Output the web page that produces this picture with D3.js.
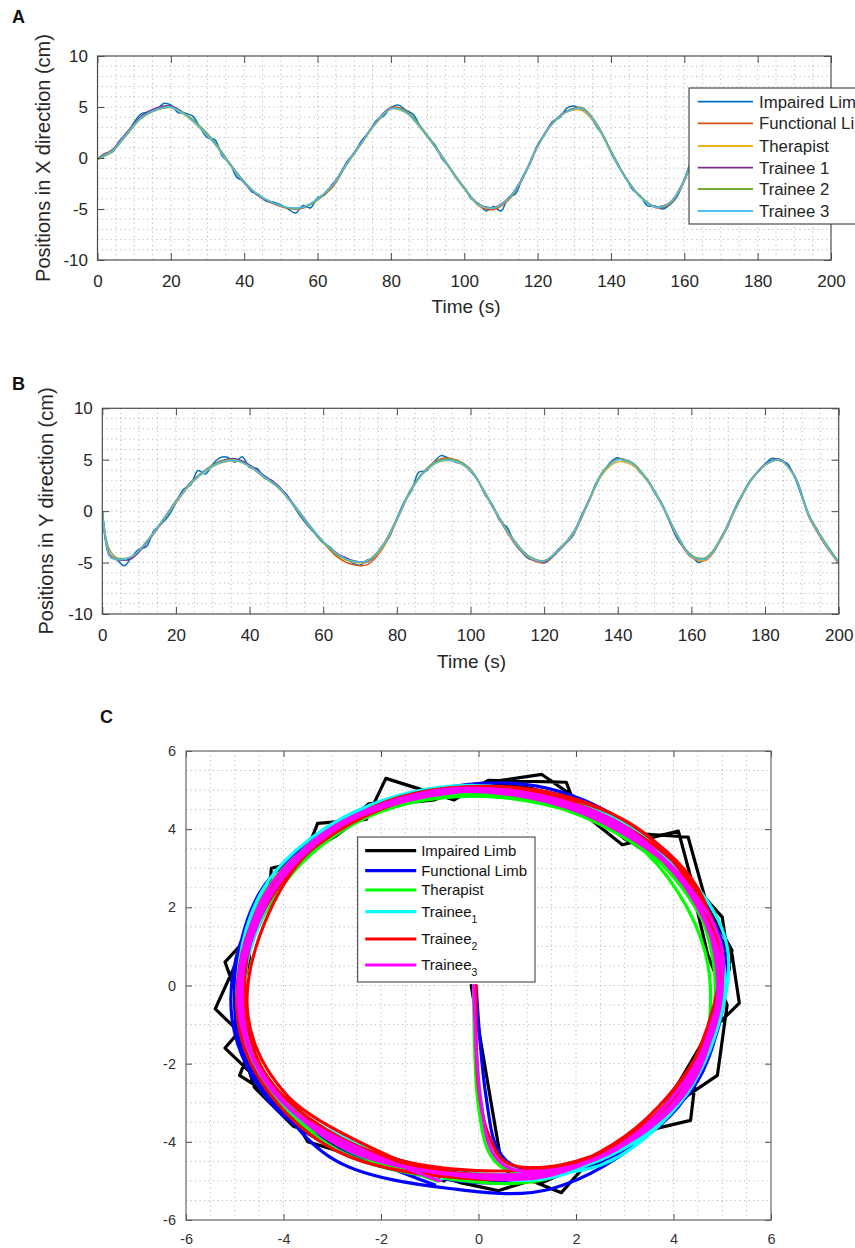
<!DOCTYPE html>
<html>
<head>
<meta charset="utf-8">
<script src="https://cdn.jsdelivr.net/npm/d3@7"></script>
<style>
  body { margin: 0; background: #fff; }
  svg { display: block; }
</style>
</head>
<body>
<svg id="fig" width="855" height="1248"></svg>
<script>
// ---------------- data ----------------
const seriesNames = ["Impaired Limb", "Functional Limb", "Therapist", "Trainee 1", "Trainee 2", "Trainee 3"];
const planeLegendBase = ["Impaired Limb", "Functional Limb", "Therapist", "Trainee", "Trainee", "Trainee"];
const planeLegendSub = ["", "", "", "1", "2", "3"];
const lineColors = ["#0072BD", "#D95319", "#EDB120", "#7E2F8E", "#77AC30", "#4DBEEE"];
const planeColors = ["#000000", "#0000FF", "#00FF00", "#00FFFF", "#FF0000", "#FF00FF"];

const timeTicks = [0, 20, 40, 60, 80, 100, 120, 140, 160, 180, 200];
const positionTicks = [-10, -5, 0, 5, 10];
const planeTicks = [-6, -4, -2, 0, 2, 4, 6];

// impaired limb, sampled every 2 s
const timeImpaired = [
  0, 2, 4, 6, 8, 10, 12, 14, 16, 18,
  20, 22, 24, 26, 28, 30, 32, 34, 36, 38,
  40, 42, 44, 46, 48, 50, 52, 54, 56, 58,
  60, 62, 64, 66, 68, 70, 72, 74, 76, 78,
  80, 82, 84, 86, 88, 90, 92, 94, 96, 98,
  100, 102, 104, 106, 108, 110, 112, 114, 116, 118,
  120, 122, 124, 126, 128, 130, 132, 134, 136, 138,
  140, 142, 144, 146, 148, 150, 152, 154, 156, 158,
  160, 162, 164, 166, 168, 170, 172, 174, 176, 178,
  180, 182, 184, 186, 188, 190, 192, 194, 196, 198,
  200];
const impairedX = [
  -0.15, 0.45, 0.6, 1.7, 2.3, 3.5, 4.35, 4.5, 4.7, 5.35,
  5.2, 4.45, 4.4, 4.1, 2.95, 2.0, 1.8, 0.2, -0.5, -1.9,
  -2.3, -3.3, -3.6, -4.25, -4.3, -4.6, -5.0, -5.4, -4.65, -4.9,
  -3.9, -3.6, -2.6, -1.75, -0.35, 0.4, 1.7, 2.5, 3.65, 4.1,
  4.95, 5.2, 4.7, 4.3, 3.1, 2.05, 1.3, -0.1, -0.9, -2.1,
  -2.9, -4.05, -4.5, -5.2, -4.75, -5.2, -3.9, -3.5, -1.8, -0.5,
  1.3, 2.3, 3.55, 3.95, 4.9, 5.1, 4.7, 4.35, 3.1, 2.1,
  0.5, -0.8, -1.9, -3.15, -3.7, -4.7, -4.7, -5.0, -4.6, -3.8,
  -2.1, -0.1, 2.1, 3.2, 4.35, 4.75, 5.15, 5.0, 4.1, 3.0,
  2.2, 0.45, -0.7, -2.25, -3.55, -4.8, -4.8, -4.7, -3.9, -2.7,
  -0.7];
const impairedY = [
  0, -4.4, -4.75, -5.3, -4.45, -3.7, -3.45, -1.9, -1.25, -0.45,
  0.8, 2.1, 2.55, 3.95, 3.6, 4.55, 5.2, 5.25, 4.75, 5.3,
  4.25, 4.15, 3.2, 3.0, 2.2, 1.65, 0.5, -0.6, -1.5, -2.3,
  -3.1, -3.55, -4.35, -4.5, -5.05, -5.25, -4.75, -4.55, -3.4, -2.5,
  -0.7, 0.9, 2.0, 3.8, 3.9, 4.75, 5.4, 5.15, 4.75, 4.6,
  3.85, 3.0, 1.55, 0.6, -0.95, -1.6, -3.15, -4.0, -4.65, -4.75,
  -5.05, -4.5, -3.65, -3.1, -2.3, -0.5, 0.8, 2.65, 3.7, 4.75,
  5.2, 4.85, 4.7, 3.75, 3.1, 1.75, 0.7, -1.0, -2.6, -3.6,
  -4.3, -5.0, -4.55, -4.0, -2.6, -1.4, 0.45, 1.75, 3.0, 3.75,
  4.6, 5.15, 4.9, 4.65, 3.3, 1.4, -0.6, -1.7, -3.1, -4.0,
  -5.0];

// the other five traces share a coarser time base
const timeSmooth = [
  0, 1, 2, 4, 8, 12, 16, 20, 24, 28,
  32, 36, 40, 44, 48, 52, 56, 60, 64, 68,
  72, 76, 80, 84, 88, 92, 96, 100, 104, 108,
  112, 116, 120, 124, 128, 132, 136, 140, 144, 148,
  152, 156, 160, 164, 168, 172, 176, 180, 184, 188,
  192, 196, 200];

const functionalX = [
  -0.05, 0.15, 0.4, 0.8, 2.5, 4.1, 4.8, 5.05, 4.3, 3.05,
  1.5, -0.5, -2.35, -3.75, -4.5, -4.95, -4.9, -4.1, -2.9, -0.55,
  1.5, 3.55, 4.95, 4.65, 3.1, 1.2, -0.95, -2.95, -4.7, -5.05,
  -4.15, -2.0, 1.1, 3.35, 4.6, 4.95, 3.4, 0.7, -1.9, -3.8,
  -4.85, -4.55, -2.3, 1.9, 4.25, 5.05, 4.1, 2.2, -0.7, -3.6,
  -4.95, -4.1, -0.9];
const functionalY = [
  0, -2.8, -4.2, -4.65, -4.5, -3.1, -1.2, 0.8, 2.65, 3.95,
  4.8, 5.05, 4.45, 3.4, 2.35, 0.55, -1.4, -3.05, -4.5, -5.2,
  -5.2, -3.7, -0.9, 2.15, 4.1, 5.1, 5.0, 4.05, 1.65, -0.9,
  -3.15, -4.6, -5.0, -3.85, -2.2, 0.8, 3.75, 5.05, 4.65, 3.05,
  0.55, -2.4, -4.5, -4.75, -2.8, 0.2, 2.85, 4.5, 5.05, 3.45,
  -0.6, -3.1, -5.1];

const therapistX = [
  -0.1, 0.0, 0.25, 0.65, 2.3, 3.95, 4.7, 4.95, 4.15, 2.9,
  1.35, -0.65, -2.45, -3.75, -4.45, -4.9, -4.85, -4.05, -2.75, -0.6,
  1.4, 3.4, 4.8, 4.45, 2.95, 1.05, -1.05, -3.05, -4.65, -4.9,
  -4.05, -1.9, 1.1, 3.3, 4.5, 4.65, 3.2, 0.55, -2.0, -3.8,
  -4.75, -4.4, -2.25, 1.9, 4.15, 4.95, 3.95, 2.05, -0.85, -3.7,
  -4.9, -4.05, -0.85];
const therapistY = [
  0, -3.1, -4.35, -4.75, -4.55, -3.05, -1.15, 0.85, 2.65, 3.85,
  4.65, 4.9, 4.35, 3.3, 2.25, 0.55, -1.35, -3.0, -4.3, -4.95,
  -4.95, -3.6, -0.85, 2.1, 3.95, 4.85, 4.8, 3.9, 1.65, -0.85,
  -3.05, -4.5, -4.9, -3.8, -2.15, 0.85, 3.65, 4.8, 4.45, 2.9,
  0.55, -2.3, -4.45, -4.7, -2.75, 0.25, 2.85, 4.45, 4.95, 3.35,
  -0.55, -3.05, -5.0];

const trainee1X = [
  -0.1, 0.05, 0.3, 0.75, 2.5, 4.1, 4.9, 5.1, 4.3, 3.0,
  1.45, -0.55, -2.45, -3.75, -4.45, -4.9, -4.85, -4.05, -2.65, -0.45,
  1.55, 3.55, 4.9, 4.55, 3.05, 1.15, -0.95, -2.95, -4.55, -4.85,
  -3.95, -1.85, 1.25, 3.45, 4.6, 4.9, 3.35, 0.65, -1.95, -3.8,
  -4.75, -4.4, -2.15, 2.05, 4.25, 5.05, 4.05, 2.15, -0.75, -3.6,
  -4.85, -3.95, -0.75];
const trainee1Y = [
  0, -2.9, -4.25, -4.7, -4.6, -3.05, -1.1, 1.0, 2.8, 4.0,
  4.85, 5.1, 4.5, 3.45, 2.4, 0.65, -1.25, -2.95, -4.15, -4.8,
  -4.9, -3.45, -0.75, 2.2, 4.05, 4.95, 4.9, 4.0, 1.75, -0.75,
  -2.95, -4.45, -4.9, -3.8, -2.05, 0.95, 3.85, 5.05, 4.65, 3.05,
  0.65, -2.25, -4.35, -4.6, -2.65, 0.35, 2.95, 4.55, 5.05, 3.45,
  -0.45, -2.95, -4.95];

const trainee2X = [
  -0.05, 0.0, 0.2, 0.6, 2.3, 3.9, 4.7, 4.95, 4.3, 3.1,
  1.55, -0.5, -2.3, -3.65, -4.4, -4.9, -4.85, -4.1, -2.8, -0.6,
  1.45, 3.45, 4.85, 4.6, 3.15, 1.2, -0.9, -2.9, -4.55, -4.9,
  -4.05, -1.95, 1.15, 3.35, 4.55, 4.9, 3.4, 0.7, -1.9, -3.75,
  -4.75, -4.4, -2.1, 2.0, 4.2, 4.95, 4.0, 2.15, -0.65, -3.5,
  -4.75, -3.9, -0.8];
const trainee2Y = [
  0, -2.6, -3.8, -4.55, -4.4, -2.95, -1.05, 0.95, 2.75, 4.0,
  4.8, 5.0, 4.35, 3.25, 2.2, 0.5, -1.4, -3.05, -4.3, -4.9,
  -4.8, -3.4, -0.7, 2.25, 4.1, 5.0, 4.95, 4.05, 1.8, -0.7,
  -2.9, -4.4, -4.8, -3.7, -2.0, 1.0, 3.9, 5.05, 4.7, 3.1,
  0.7, -2.2, -4.3, -4.5, -2.6, 0.4, 2.95, 4.5, 4.95, 3.4,
  -0.4, -2.85, -4.9];

const trainee3X = [
  -0.1, 0.05, 0.3, 0.7, 2.4, 4.0, 4.75, 5.0, 4.2, 2.95,
  1.4, -0.6, -2.4, -3.7, -4.4, -4.85, -4.8, -4.0, -2.7, -0.5,
  1.5, 3.5, 4.85, 4.5, 3.0, 1.1, -1.0, -3.0, -4.6, -4.9,
  -4.0, -1.9, 1.2, 3.4, 4.55, 4.85, 3.3, 0.6, -2.0, -3.85,
  -4.8, -4.45, -2.2, 2.0, 4.2, 5.0, 4.0, 2.1, -0.8, -3.65,
  -4.9, -4.0, -0.8];
const trainee3Y = [
  0, -3.0, -4.3, -4.7, -4.45, -3.0, -1.1, 0.9, 2.7, 3.9,
  4.7, 4.95, 4.4, 3.35, 2.3, 0.6, -1.3, -2.95, -4.2, -4.85,
  -4.85, -3.5, -0.8, 2.15, 4.0, 4.9, 4.85, 3.95, 1.7, -0.8,
  -3.0, -4.5, -4.85, -3.75, -2.1, 0.9, 3.8, 5.0, 4.6, 3.0,
  0.6, -2.3, -4.4, -4.6, -2.7, 0.3, 2.9, 4.5, 5.0, 3.4,
  -0.5, -3.0, -5.0];

// ---------------- assembly ----------------
const traces = [
  { t: timeImpaired, x: impairedX, y: impairedY },
  { t: timeSmooth, x: functionalX, y: functionalY },
  { t: timeSmooth, x: therapistX, y: therapistY },
  { t: timeSmooth, x: trainee1X, y: trainee1Y },
  { t: timeSmooth, x: trainee2X, y: trainee2Y },
  { t: timeSmooth, x: trainee3X, y: trainee3Y }
].map((d, i) => ({ ...d, name: seriesNames[i] }));

const FONT = "'Liberation Sans', Arial, Helvetica, sans-serif";
const INK = "#262626";
const svg = d3.select("#fig");

function styleAxis(sel, size, color) {
  sel.select(".domain").remove();
  sel.selectAll(".tick line").attr("stroke", "#4d4d4d").attr("stroke-width", 1);
  sel.selectAll(".tick text")
    .attr("font-family", FONT).attr("font-size", size).attr("fill", color);
}

function dottedGrid(g, xs, ys, x, y, box) {
  const grid = g.append("g")
    .attr("stroke", "#b9b9b9").attr("stroke-width", 1)
    .attr("stroke-dasharray", "1.2,3.3");
  grid.selectAll("line.v").data(xs).join("line")
    .attr("x1", d => x(d)).attr("x2", d => x(d))
    .attr("y1", box.top).attr("y2", box.bottom);
  grid.selectAll("line.h").data(ys).join("line")
    .attr("y1", d => y(d)).attr("y2", d => y(d))
    .attr("x1", box.left).attr("x2", box.right);
}

function timePanel(o) {
  const g = svg.append("g");
  const x = d3.scaleLinear().domain([0, 200]).range([o.left, o.right]);
  const y = d3.scaleLinear().domain([-10, 10]).range([o.bottom, o.top]);

  g.append("rect").attr("x", o.left).attr("y", o.top)
    .attr("width", o.right - o.left).attr("height", o.bottom - o.top).attr("fill", "#fff");
  dottedGrid(g, d3.range(5, 200, 5), d3.range(-9, 10, 1), x, y, o);

  const clipId = "clip-" + o.id;
  g.append("clipPath").attr("id", clipId).append("rect")
    .attr("x", o.left).attr("y", o.top)
    .attr("width", o.right - o.left).attr("height", o.bottom - o.top);

  const line = d3.line().x(d => x(d[0])).y(d => y(d[1])).curve(d3.curveCatmullRom);
  const lines = g.append("g").attr("clip-path", `url(#${clipId})`);
  traces.forEach((s, i) => {
    lines.append("path")
      .datum(s.t.map((t, k) => [t, s[o.key][k]]))
      .attr("d", line).attr("fill", "none")
      .attr("stroke", lineColors[i]).attr("stroke-width", 1.5)
      .attr("stroke-linejoin", "round");
  });

  const fmt = d => String(d);
  g.append("g").attr("transform", `translate(0,${o.bottom})`)
    .call(d3.axisBottom(x).tickValues(timeTicks).tickFormat(fmt)
      .tickSizeInner(-7).tickSizeOuter(0).tickPadding(14.5))
    .call(s => styleAxis(s, 17, INK));
  g.append("g").attr("transform", `translate(0,${o.top})`)
    .call(d3.axisTop(x).tickValues(timeTicks).tickFormat("")
      .tickSizeInner(-7).tickSizeOuter(0))
    .call(s => styleAxis(s, 17, INK));
  g.append("g").attr("transform", `translate(${o.left},0)`)
    .call(d3.axisLeft(y).tickValues(positionTicks).tickFormat(fmt)
      .tickSizeInner(-7).tickSizeOuter(0).tickPadding(9.5))
    .call(s => styleAxis(s, 17, INK));
  g.append("g").attr("transform", `translate(${o.right},0)`)
    .call(d3.axisRight(y).tickValues(positionTicks).tickFormat("")
      .tickSizeInner(-7).tickSizeOuter(0))
    .call(s => styleAxis(s, 17, INK));

  g.append("rect").attr("x", o.left).attr("y", o.top)
    .attr("width", o.right - o.left).attr("height", o.bottom - o.top)
    .attr("fill", "none").attr("stroke", "#4d4d4d").attr("stroke-width", 1.2);

  g.append("text").attr("x", o.xTitle[0]).attr("y", o.xTitle[1])
    .attr("text-anchor", "middle").attr("font-family", FONT)
    .attr("font-size", 19).attr("fill", INK).text("Time (s)");
  g.append("text")
    .attr("transform", `translate(${o.yTitle[0]},${o.yTitle[1]}) rotate(-90)`)
    .attr("text-anchor", "middle").attr("font-family", FONT)
    .attr("font-size", 20).attr("fill", INK).text(o.yLabel);

  svg.append("text").attr("x", o.tag[0]).attr("y", o.tag[1])
    .attr("font-family", FONT).attr("font-weight", "bold")
    .attr("font-size", 18).attr("fill", "#111").text(o.id);

  return { g, x, y };
}

// Panel A: X position over time, with its legend
timePanel({
  id: "A", key: "x", left: 97.5, right: 831, top: 56, bottom: 260,
  xTitle: [466, 313], yTitle: [49.5, 158], tag: [12, 23],
  yLabel: "Positions in X direction (cm)"
});
{
  const lg = svg.append("g");
  const top = 88, left = 689;
  const rowOffsets = [13.7, 35.3, 58, 79.7, 101, 123];
  lg.append("rect").attr("x", left).attr("y", top).attr("width", 230).attr("height", 136)
    .attr("fill", "#fff").attr("stroke", INK).attr("stroke-width", 1);
  seriesNames.forEach((n, i) => {
    const yy = top + rowOffsets[i];
    lg.append("line").attr("x1", left + 8.7).attr("x2", left + 64).attr("y1", yy).attr("y2", yy)
      .attr("stroke", lineColors[i]).attr("stroke-width", 1.8);
    lg.append("text").attr("x", left + 70).attr("y", yy).attr("dy", "0.35em")
      .attr("font-family", FONT).attr("font-size", 16.8).attr("fill", INK).text(n);
  });
}

// Panel B: Y position over time
timePanel({
  id: "B", key: "y", left: 102.3, right: 838.7, top: 408.3, bottom: 614,
  xTitle: [471.5, 668], yTitle: [52.5, 511], tag: [12, 390],
  yLabel: "Positions in Y direction (cm)"
});

// Panel C: trajectories in the X-Y plane
{
  const box = { left: 186, right: 771, top: 751, bottom: 1220 };
  const g = svg.append("g");
  const x = d3.scaleLinear().domain([-6, 6]).range([box.left, box.right]);
  const y = d3.scaleLinear().domain([-6, 6]).range([box.bottom, box.top]);
  const half = d3.range(-5.5, 6, 0.5);
  dottedGrid(g, half, half, x, y, box);

  g.append("clipPath").attr("id", "clip-C").append("rect")
    .attr("x", box.left).attr("y", box.top)
    .attr("width", box.right - box.left).attr("height", box.bottom - box.top);
  const lines = g.append("g").attr("clip-path", "url(#clip-C)");
  traces.forEach((s, i) => {
    const curve = i === 0 ? d3.curveLinear : d3.curveCatmullRom;
    const path = d3.line().x(d => x(d[0])).y(d => y(d[1])).curve(curve);
    lines.append("path")
      .datum(s.x.map((v, k) => [v, s.y[k]]))
      .attr("d", path).attr("fill", "none")
      .attr("stroke", planeColors[i]).attr("stroke-width", 3.2)
      .attr("stroke-linejoin", "round").attr("stroke-linecap", "round");
  });

  const fmt = d => String(d);
  g.append("g").attr("transform", `translate(0,${box.bottom})`)
    .call(d3.axisBottom(x).tickValues(planeTicks).tickFormat(fmt)
      .tickSizeInner(-6).tickSizeOuter(0).tickPadding(14))
    .call(s => styleAxis(s, 14.5, "#333"));
  g.append("g").attr("transform", `translate(0,${box.top})`)
    .call(d3.axisTop(x).tickValues(planeTicks).tickFormat("")
      .tickSizeInner(-6).tickSizeOuter(0))
    .call(s => styleAxis(s, 14.5, "#333"));
  g.append("g").attr("transform", `translate(${box.left},0)`)
    .call(d3.axisLeft(y).tickValues(planeTicks).tickFormat(fmt)
      .tickSizeInner(-6).tickSizeOuter(0).tickPadding(10))
    .call(s => styleAxis(s, 14.5, "#333"));
  g.append("g").attr("transform", `translate(${box.right},0)`)
    .call(d3.axisRight(y).tickValues(planeTicks).tickFormat("")
      .tickSizeInner(-6).tickSizeOuter(0))
    .call(s => styleAxis(s, 14.5, "#333"));
  g.append("rect").attr("x", box.left).attr("y", box.top)
    .attr("width", box.right - box.left).attr("height", box.bottom - box.top)
    .attr("fill", "none").attr("stroke", "#666").attr("stroke-width", 1.2);

  // legend
  const lg = svg.append("g");
  const top = 837, left = 357.7;
  const rowOffsets = [13.7, 33.7, 53, 74.7, 102, 128];
  lg.append("rect").attr("x", left).attr("y", top).attr("width", 177.3).attr("height", 145)
    .attr("fill", "#fff").attr("stroke", "#333").attr("stroke-width", 1);
  planeLegendBase.forEach((n, i) => {
    const yy = top + rowOffsets[i];
    lg.append("line").attr("x1", left + 7.5).attr("x2", left + 58.5).attr("y1", yy).attr("y2", yy)
      .attr("stroke", planeColors[i]).attr("stroke-width", 3.2);
    const t = lg.append("text").attr("x", left + 63.5).attr("y", yy).attr("dy", "0.36em")
      .attr("font-family", FONT).attr("font-size", 15).attr("fill", "#111");
    t.append("tspan").text(n);
    if (planeLegendSub[i]) {
      t.append("tspan").attr("dy", "0.55em").attr("font-size", 10.5).text(planeLegendSub[i]);
    }
  });

  svg.append("text").attr("x", 100).attr("y", 723)
    .attr("font-family", FONT).attr("font-weight", "bold")
    .attr("font-size", 18).attr("fill", "#111").text("C");
}
</script>
</body>
</html>
